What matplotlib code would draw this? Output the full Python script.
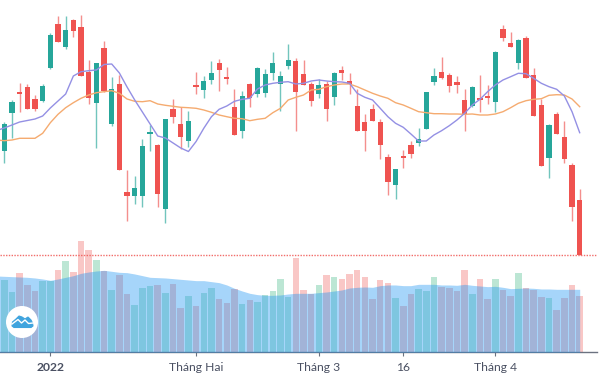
#!/usr/bin/env python3
"""
Candlestick chart with two moving averages and volume bars underneath.
"""

import numpy as np
import matplotlib
matplotlib.use('Agg')
import matplotlib.pyplot as plt
from matplotlib.patches import Circle, Polygon

# prices (no price axis, so units are arbitrary)
open_ = [109, 147, 168.5, 173, 161, 159, 192, 236, 213, 240, 233, 188, 157, 212, 136, 176, 68, 64, 64, 126, 115, 51, 151, 136, 119, 175,
         170, 179.7, 197.3, 183.3, 153.3, 129, 176.3, 166, 166.7, 186.7, 176, 194.3, 199.3, 186.3, 176, 165.7, 176.3, 162.7, 190, 179.3, 154.3, 137.7, 150.7, 137.7, 102.7, 75.3,
         104, 115.3, 117, 131, 177.7, 188, 185, 178.3, 160.3, 154, 162.3, 164, 158, 231, 217.3, 196.7, 222, 185, 155.3, 102.3, 146.3, 122.7, 94.7, 59.7]
close = [136, 158, 166.5, 151, 151, 174, 225, 218, 230, 229, 184, 162, 197, 169, 171, 90, 64, 72, 114, 128, 66, 141, 143, 123, 139, 173,
         179.3, 187.3, 189.7, 180.7, 125, 164.3, 161.7, 192.3, 186.3, 197.3, 184.3, 200, 168, 174.7, 159, 175.3, 151, 187.3, 186.7, 175.7, 129, 129, 139, 115, 78, 90.7,
         102.3, 106.3, 120.7, 168.3, 184, 181.7, 173.7, 174.7, 146, 173, 159.7, 162, 208, 222, 213.3, 220, 181.7, 144, 94.3, 135.3, 125.7, 101.3, 53.3, 5]
high = [138.3, 160, 177, 176, 165, 176, 227, 244, 244, 241, 245, 200, 197, 219, 183, 185, 90, 84, 121, 135, 116, 141, 161, 153, 149, 188,
        184.3, 199.3, 201, 193.3, 170.7, 169.3, 176.7, 192.7, 191, 208, 189, 216, 202.3, 200.3, 178.3, 181, 179, 187.7, 194.3, 187.3, 171.3, 146.3, 156.3, 141.3, 105.7, 91,
        109.7, 119, 131.7, 168.3, 192.3, 203.3, 187.3, 183.7, 171.3, 173.7, 185.3, 174.7, 208.7, 235, 228, 220.7, 223.7, 192.3, 161.3, 135.7, 148.3, 138.7, 96.7, 71]
low = [97.3, 122, 148, 151, 149, 158, 191, 218, 211, 223, 184, 156, 112, 168, 134, 90, 39, 56, 53, 109, 53, 37, 137, 111, 113, 166,
       162, 176, 168.7, 175.7, 125, 122.3, 152.7, 162.7, 162.7, 180, 149, 190.7, 129, 174.7, 154, 161.7, 139, 155, 180, 166, 129, 109.3, 138.7, 101, 65.3, 61.3,
       92.3, 102.3, 114.3, 130.7, 174.7, 181, 168, 167, 129.3, 153.3, 148.3, 156, 148, 219.3, 212.7, 190.7, 181.7, 144, 94.3, 82.3, 125.7, 97.3, 39.3, 5]

# moving averages, first value sits one candle left of the chart edge
ma_fast = [129.5, 132, 135, 138, 139.5, 141, 144, 152, 159, 166, 184, 188.3, 189.3, 190, 195.5, 196, 187, 173, 160, 148, 136, 124, 122, 117, 112, 108.5, 118.5,
           131.7, 143.3, 150.7, 154, 158.7, 160.7, 161.7, 171, 175, 176.7, 177.7, 178.3, 176, 176.7, 179, 180, 179, 178.3, 178, 176.7, 166.7, 162.7, 160, 151.7, 143.3, 136.7,
           132.7, 126, 119, 119, 125, 129.3, 134.3, 140, 146.7, 155, 160.7, 168.3, 175, 180, 183.3, 186.7, 186.3, 181.7, 176.7, 173.3, 170.7, 164, 148.3, 127.3]
ma_slow = [120, 119.3, 120, 121.7, 121.7, 121.7, 126.7, 137.3, 145.7, 152.3, 157.3, 161.7, 165, 167.3, 168.3, 169.3, 166.7, 161, 158.7, 158.3, 159.3, 156, 154.7, 153.7, 152.7, 152.3, 151.7,
           150, 147.7, 145, 143.3, 141.7, 141.3, 139.3, 140.7, 141.7, 147.3, 151.7, 160, 162.7, 165, 170, 170.7, 173.3, 175, 176, 176, 173.3, 170, 166.7, 164, 161.7, 157.3,
           155, 151.7, 148.3, 147.3, 146.3, 146.3, 146, 146, 145.7, 146, 145, 145, 146, 148.3, 152.3, 156.7, 159.3, 160.7, 161.3, 164.7, 165.3, 165, 161, 153.3]
support = 5

volume = [217, 180, 237, 201, 184, 213, 213, 248, 275, 240, 335, 308, 278, 245, 186, 233, 174, 141, 192, 198, 201, 177, 204, 132, 168, 138,
          177, 192, 159, 147, 189, 144, 157, 150, 172, 185, 221, 167, 284, 186, 175, 201, 231, 227, 221, 236, 248, 225, 160, 216, 207, 162,
          139, 175, 189, 183, 227, 197, 192, 183, 248, 174, 221, 160, 221, 186, 168, 239, 194, 186, 165, 162, 127, 162, 201, 168]
volume_ma = [229, 228, 227, 226, 225, 223, 220, 216, 220, 225, 230, 237, 241, 244, 246, 243, 240, 239, 235, 230, 225, 224, 223, 221, 219, 217, 215,
             215, 212, 209, 202, 192, 184, 177, 173, 171, 171, 172, 175, 177, 177, 177, 179, 181, 184, 187, 193, 195, 196, 195, 200, 202, 202,
             200, 200, 204, 204, 204, 202, 202, 201, 204, 201, 199, 197, 198, 195, 191, 192, 193, 192, 190, 190, 189, 189, 189, 189]

tick_pos = [6, 25, 41, 52, 64]
tick_labels = ['2022', 'Tháng Hai', 'Tháng 3', '16', 'Tháng 4']

UP = '#26a69a'
DOWN = '#ef5350'
VOL_UP = '#2fb27a'
W, H = 600, 378
AXIS_W = 597
BASE_Y = 352.3  # pixel row of the time axis

plt.rcParams['font.family'] = ['Lato', 'DejaVu Sans']

fig = plt.figure(figsize=(W / 100, H / 100), dpi=100)

x_left = -4.3 / 7.672
x_right = (AXIS_W - 4.3) / 7.672
idx = np.arange(len(close))
line_x = np.arange(-1, len(close))
colors = [UP if c >= o else DOWN for o, c in zip(open_, close)]
vol_colors = [VOL_UP if c >= o else DOWN for o, c in zip(open_, close)]

# === price panel ===
ax = fig.add_axes([0, 0, AXIS_W / W, 1])
ax.set_xlim(x_left, x_right)
ax.set_ylim(260 - H, 260)
ax.axis('off')

ax.axhline(support, color='#ef5350', lw=1, ls=(0, (1, 1)), alpha=0.85, zorder=1)
ax.vlines(idx, low, high, colors=colors, lw=1, alpha=0.65, zorder=2)
ax.bar(idx, np.abs(np.array(close) - np.array(open_)),
       bottom=np.minimum(open_, close), width=0.68, color=colors, lw=0, zorder=3)
ax.plot(line_x, ma_slow, color='#f5ab70', lw=1, zorder=4)
ax.plot(line_x, ma_fast, color='#9490e4', lw=1, zorder=5)

# === volume panel ===
vol_ax = fig.add_axes([0, (H - BASE_Y) / H, AXIS_W / W, (BASE_Y - 230) / H])
vol_ax.patch.set_alpha(0)
vol_ax.set_xlim(x_left, x_right)
vol_ax.set_ylim(0, 367)
vol_ax.bar(idx, volume, width=0.85, color=vol_colors, alpha=0.32, lw=0, zorder=2)
vol_ax.fill_between(line_x, volume_ma, 0, color='#2196f3', alpha=0.4, lw=0, zorder=3)

for side in ['top', 'left', 'right']:
    vol_ax.spines[side].set_visible(False)
vol_ax.spines['bottom'].set_color('#6b7280')
vol_ax.spines['bottom'].set_linewidth(1)
vol_ax.set_yticks([])
vol_ax.set_xticks(tick_pos)
vol_ax.set_xticklabels(tick_labels, fontsize=8.7, color='#4a5062')
vol_ax.tick_params(axis='x', length=3, width=0.8, color='#6b7280', pad=4)
vol_ax.get_xticklabels()[0].set_fontweight('bold')

# === logo, drawn in pixel coordinates ===
logo = fig.add_axes([0, 0, 1, 1])
logo.patch.set_alpha(0)
logo.set_xlim(0, W)
logo.set_ylim(H, 0)
logo.axis('off')
logo.add_patch(Circle((22, 322), 16, fc='white', ec='none', zorder=1))
cloud = [(12, 326), (12.5, 322), (16, 319), (19, 316), (22, 317), (25, 319), (28, 317), (31, 320), (32.5, 323), (33, 326), (31, 327.5), (14, 327.5)]
logo.add_patch(Polygon(cloud, closed=True, fc='#3fa4de', ec='#3fa4de', lw=0.8, zorder=2))
logo.plot([12, 18, 21.5, 25, 28.5, 33], [324, 319.5, 323, 320, 323.5, 323], color='white', lw=1, zorder=3)

plt.savefig('out.png', dpi=100)
plt.close()
